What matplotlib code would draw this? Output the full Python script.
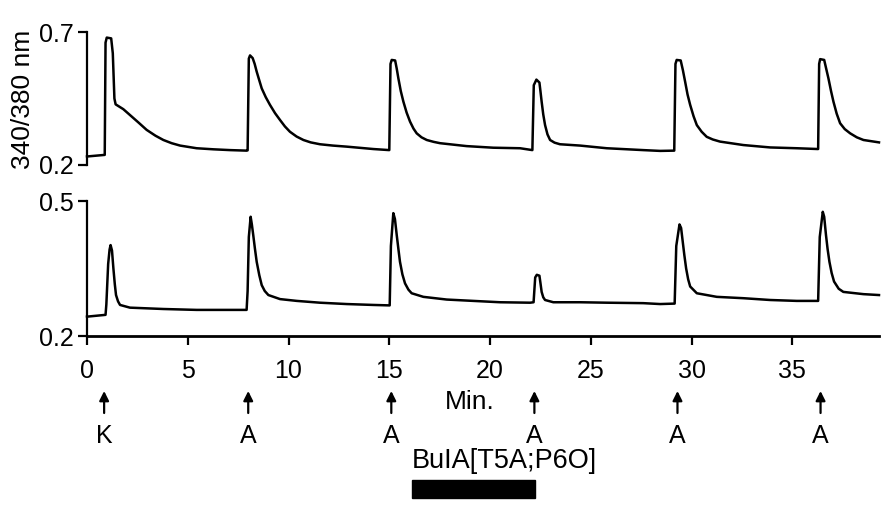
import matplotlib
matplotlib.use("Agg")
import matplotlib.pyplot as plt
from matplotlib.transforms import blended_transform_factory
from matplotlib.patches import Rectangle

plt.rcParams['font.family'] = ['Liberation Sans', 'DejaVu Sans']

# ---- data ----
t_top = [0, 0.88, 0.92, 0.98, 1.2, 1.28, 1.36, 1.42, 1.8, 2.13, 2.55, 2.96, 3.4, 3.79, 4.2, 4.62, 5.44, 6.27, 7.1, 7.92,
         7.97, 8.03, 8.09, 8.22, 8.32, 8.42, 8.55, 8.67, 8.87, 9.08, 9.33, 9.58, 9.82, 10.07, 10.4, 10.74, 11.1, 11.56, 12.2, 12.89, 14.21, 15.0,
         15.06, 15.12, 15.29, 15.37, 15.45, 15.57, 15.7, 15.86, 16.03, 16.2, 16.36, 16.6, 16.86, 17.2, 17.52, 18.84, 20.16, 21.49, 22.1,
         22.17, 22.3, 22.45, 22.5, 22.56, 22.64, 22.73, 22.85, 22.98, 23.2, 23.47, 24.47, 25.79, 27.6, 28.44, 29.14,
         29.2, 29.26, 29.46, 29.57, 29.68, 29.8, 29.93, 30.1, 30.26, 30.5, 30.75, 31.05, 31.41, 32.57, 33.9, 35.22, 36.28,
         36.33, 36.38, 36.58, 36.68, 36.79, 36.92, 37.04, 37.2, 37.37, 37.6, 37.87, 38.2, 38.53, 39.3]
v_top = [0.232, 0.238, 0.66, 0.679, 0.676, 0.62, 0.45, 0.428, 0.41, 0.388, 0.36, 0.332, 0.31, 0.294, 0.282, 0.273, 0.263, 0.259, 0.256, 0.254,
         0.255, 0.6, 0.612, 0.602, 0.58, 0.551, 0.518, 0.488, 0.455, 0.426, 0.395, 0.369, 0.345, 0.325, 0.307, 0.294, 0.285, 0.278, 0.273, 0.269, 0.26, 0.256,
         0.58, 0.595, 0.593, 0.562, 0.526, 0.478, 0.438, 0.397, 0.363, 0.337, 0.319, 0.304, 0.294, 0.287, 0.282, 0.271, 0.265, 0.263, 0.256,
         0.5, 0.521, 0.51, 0.478, 0.438, 0.39, 0.35, 0.315, 0.294, 0.284, 0.278, 0.273, 0.263, 0.256, 0.253, 0.254,
         0.58, 0.595, 0.593, 0.556, 0.513, 0.465, 0.426, 0.383, 0.35, 0.325, 0.306, 0.296, 0.288, 0.275, 0.266, 0.263, 0.26,
         0.58, 0.598, 0.595, 0.562, 0.526, 0.478, 0.438, 0.393, 0.357, 0.335, 0.319, 0.304, 0.294, 0.285]

t_bot = [0, 0.92, 0.96, 1.05, 1.12, 1.17, 1.24, 1.31, 1.38, 1.44, 1.54, 1.64, 2.13, 3.79, 5.44, 7.1, 7.92,
         7.97, 8.03, 8.12, 8.18, 8.25, 8.33, 8.42, 8.55, 8.67, 8.82, 9.0, 9.58, 10.41, 11.56, 12.89, 14.21, 15.02,
         15.08, 15.2, 15.28, 15.37, 15.45, 15.53, 15.65, 15.78, 15.95, 16.11, 16.69, 17.85, 19.17, 20.5, 21.99, 22.16,
         22.24, 22.32, 22.45, 22.5, 22.56, 22.64, 22.73, 23.14, 24.47, 25.79, 27.6, 28.44, 29.16,
         29.24, 29.4, 29.48, 29.56, 29.64, 29.73, 29.83, 29.93, 30.26, 31.25, 32.57, 33.9, 35.22, 36.28,
         36.36, 36.51, 36.58, 36.67, 36.75, 36.84, 36.95, 37.07, 37.3, 37.53, 38.53, 39.3]
v_bot = [0.243, 0.247, 0.27, 0.36, 0.392, 0.402, 0.39, 0.35, 0.315, 0.291, 0.277, 0.269, 0.263, 0.26, 0.258, 0.258, 0.258,
         0.3, 0.42, 0.465, 0.448, 0.424, 0.395, 0.365, 0.335, 0.313, 0.3, 0.291, 0.282, 0.278, 0.274, 0.271, 0.269, 0.268,
         0.4, 0.473, 0.46, 0.424, 0.394, 0.365, 0.337, 0.317, 0.303, 0.295, 0.287, 0.281, 0.278, 0.275, 0.274, 0.275,
         0.33, 0.336, 0.334, 0.318, 0.298, 0.286, 0.28, 0.275, 0.275, 0.274, 0.273, 0.271, 0.272,
         0.4, 0.448, 0.44, 0.41, 0.38, 0.35, 0.326, 0.31, 0.295, 0.287, 0.284, 0.28, 0.278, 0.278,
         0.42, 0.476, 0.465, 0.424, 0.393, 0.365, 0.34, 0.321, 0.305, 0.298, 0.293, 0.291]

x_ticks = [0, 5, 10, 15, 20, 25, 30, 35]
top_yticks = [0.2, 0.7]
bot_yticks = [0.2, 0.5]
stim_times = [0.85, 8.0, 15.1, 22.2, 29.3, 36.4]
stim_labels = ['K', 'A', 'A', 'A', 'A', 'A']
drug_label = 'BuIA[T5A;P6O]'
drug_start, drug_end = 16.13, 22.25
x_label = 'Min.'
y_label = '340/380 nm'

# ---- figure ----
W, H = 892, 509
fig = plt.figure(figsize=(W / 100, H / 100), dpi=100)

def ax_rect(x0, x1, ytop, ybot):
    return [x0 / W, 1 - ybot / H, (x1 - x0) / W, (ybot - ytop) / H]

ax1 = fig.add_axes(ax_rect(87, 879, 32, 165))
ax2 = fig.add_axes(ax_rect(87, 879, 201, 336))

fs = 18
for ax in (ax1, ax2):
    ax.set_xlim(0, 39.3)
    for s in ('top', 'right'):
        ax.spines[s].set_visible(False)
    ax.spines['left'].set_linewidth(1.6)
    ax.spines['bottom'].set_linewidth(2.0)
    ax.tick_params(width=1.6, length=6.5, labelsize=fs, pad=3, direction='out')

ax1.plot(t_top, v_top, color='black', lw=1.8, clip_on=False)
ax1.set_ylim(0.2, 0.7)
ax1.set_yticks(top_yticks)
ax1.set_yticklabels([f'{v:.1f}' for v in top_yticks])
ax1.spines['bottom'].set_visible(False)
ax1.set_xticks([])

ax2.plot(t_bot, v_bot, color='black', lw=1.8, clip_on=False)
ax2.set_ylim(0.2, 0.5)
ax2.set_yticks(bot_yticks)
ax2.set_yticklabels([f'{v:.1f}' for v in bot_yticks])
ax2.set_xticks(x_ticks)
ax2.set_xticklabels([str(v) for v in x_ticks])
ax2.tick_params(axis='x', pad=10)

fig.text(23 / W, 1 - 99 / H, y_label, rotation=90, ha='center', va='center', fontsize=19)

tr = blended_transform_factory(ax2.transData, fig.transFigure)
for t, lab in zip(stim_times, stim_labels):
    ax2.annotate('', xy=(t, 1 - 391 / H), xytext=(t, 1 - 413 / H),
                 xycoords=tr, textcoords=tr,
                 arrowprops=dict(arrowstyle='-|>', lw=1.6, color='black', mutation_scale=14,
                                 shrinkA=0, shrinkB=0))
    ax2.text(t, 1 - 436 / H, lab, transform=tr, ha='center', va='center', fontsize=fs)

ax2.text((470 - 87) / 20.15, 1 - 402 / H, x_label, transform=tr, ha='center', va='center', fontsize=19)
ax2.text(drug_start, 1 - 461 / H, drug_label, transform=tr, ha='left', va='center', fontsize=19.5)
ax2.add_patch(Rectangle((drug_start, 1 - 498 / H), drug_end - drug_start, 18 / H,
                        transform=tr, color='black', clip_on=False))

fig.savefig('out.png', dpi=100)
